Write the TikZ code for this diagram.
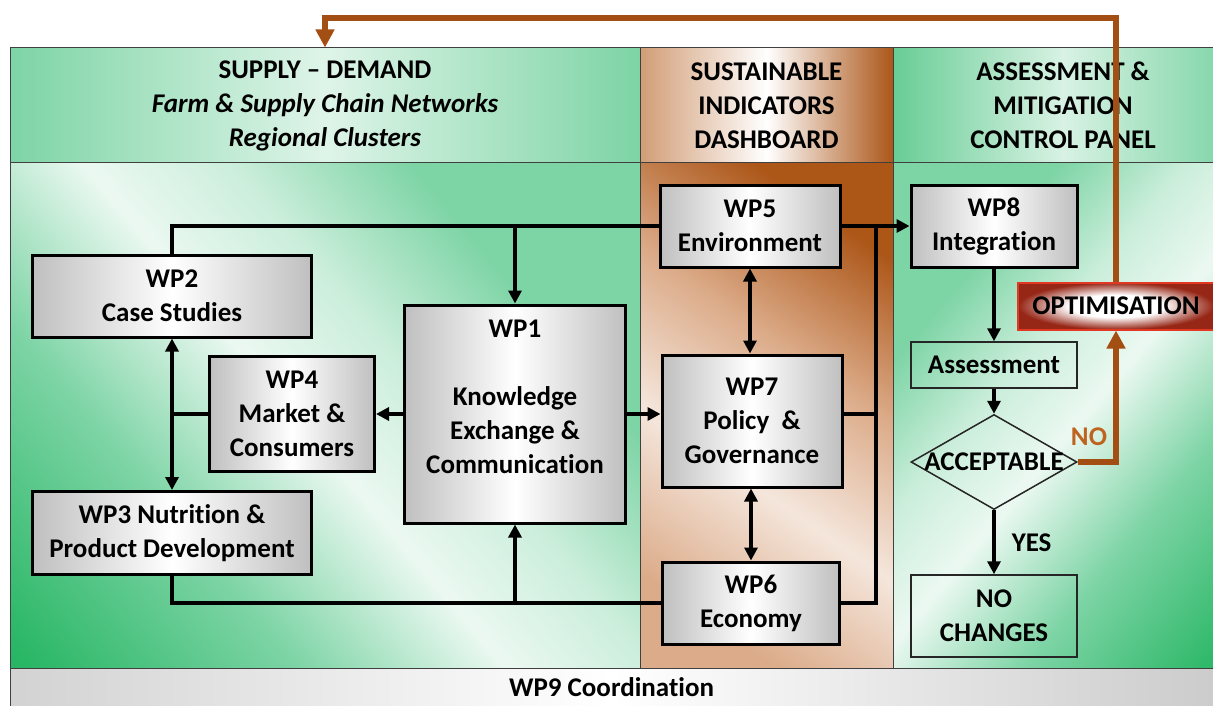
\documentclass[tikz,border=0pt]{standalone}
\usepackage{fontspec}
\setmainfont{Carlito}[Ligatures=NoCommon]
\usetikzlibrary{arrows.meta,shapes.geometric}

\definecolor{mint}{RGB}{125,212,165}
\definecolor{deepgreen}{RGB}{20,175,85}
\definecolor{peach}{RGB}{220,172,138}
\definecolor{tan}{RGB}{198,132,84}
\definecolor{rust}{RGB}{172,86,24}
\definecolor{loopbrown}{RGB}{163,78,18}
\definecolor{nobrown}{RGB}{190,100,30}
\definecolor{optred}{RGB}{150,38,22}
\definecolor{optedge}{RGB}{225,55,35}

\pgfdeclarehorizontalshading{greenbody}{100bp}{color(0bp)=(deepgreen); color(16bp)=(deepgreen!80!mint); color(34bp)=(mint); color(48bp)=(white!85!mint); color(58bp)=(white!60!mint); color(70bp)=(mint); color(100bp)=(mint)}
\pgfdeclarehorizontalshading{brownbody}{100bp}{color(0bp)=(peach); color(25bp)=(peach); color(42bp)=(white!70!peach); color(58bp)=(peach); color(75bp)=(rust); color(100bp)=(rust)}
\pgfdeclareradialshading{optglow}{\pgfpoint{0bp}{0bp}}{color(0bp)=(white); color(12bp)=(white); color(25bp)=(optred); color(50bp)=(optred)}

\newcommand\wpfont{\fontsize{27}{34}\selectfont\bfseries}

\begin{document}
\begin{tikzpicture}[x=1pt, y=-1pt,
    >={Triangle[length=13pt,width=13pt]},
    cell/.style={draw=black!75, line width=1pt, inner sep=0pt, font=\wpfont, align=center},
    wpbox/.style={draw=black, line width=3pt, left color=gray!50, right color=gray!50, middle color=white, font=\wpfont, align=center, inner sep=0pt},
    flowbox/.style={draw=black!85, line width=1.5pt, font=\wpfont, align=center, inner sep=0pt, minimum width=166pt},
    decision/.style={diamond, draw=black!85, line width=1.5pt, minimum width=166pt, minimum height=95pt, inner sep=0pt},
    optbox/.style={draw=optedge, line width=2pt, shading=optglow, font=\wpfont, inner sep=0pt, minimum width=196pt, minimum height=47pt},
    link/.style={line width=3.5pt},
    loop/.style={draw=loopbrown, line width=6pt, -{Triangle[length=18pt,width=18pt]}}]
  \useasboundingbox (0,0) rectangle (1213,706);

  % column bodies
  \shade[shading=greenbody, shading angle=40, draw=black!75, line width=1pt] (10,163) rectangle (640,668);
  \shade[shading=brownbody, shading angle=55, draw=black!75, line width=1pt] (640,163) rectangle (893,668);
  \shade[shading=greenbody, shading angle=140, draw=black!75, line width=1pt] (893,163) rectangle (1233,668);

  % column headers
  \node[cell, minimum width=630pt, minimum height=115pt, left color=mint, right color=mint, middle color=white!75!mint] (supply) at (325,105.5)
    {SUPPLY -- DEMAND\\ \textit{Farm \& Supply Chain Networks}\\ \textit{Regional Clusters}};
  \node[cell, minimum width=253pt, minimum height=115pt, left color=tan!80!white, right color=rust, middle color=white] (dash) at (766.5,105.5)
    {SUSTAINABLE\\ INDICATORS\\ DASHBOARD};
  \node[cell, minimum width=340pt, minimum height=115pt, left color=mint!80!deepgreen, right color=mint, middle color=white!70!mint] (panel) at (1063,105.5)
    {ASSESSMENT \&\\ MITIGATION\\ CONTROL PANEL};
  \node[cell, minimum width=1203pt, minimum height=38pt, left color=gray!35, right color=gray!40, middle color=white] (wp9) at (611.5,687) {WP9 Coordination};

  % work packages
  \node[wpbox, minimum width=279pt, minimum height=82pt] (wp2) at (172,296) {WP2\\ Case Studies};
  \node[wpbox, minimum width=165pt, minimum height=115pt] (wp4) at (292,414) {WP4\\ Market \&\\ Consumers};
  \node[wpbox, minimum width=221pt, minimum height=218pt] (wp1) at (515,414) {WP1\\[34pt] Knowledge\\ Exchange \&\\ Communication\\ \mbox{}};
  \node[wpbox, minimum width=279pt, minimum height=83pt] (wp3) at (172,533) {WP3 Nutrition \&\\ Product Development};
  \node[wpbox, minimum width=180pt, minimum height=82pt] (wp5) at (750,226) {WP5\\ Environment};
  \node[wpbox, minimum width=180pt, minimum height=132pt] (wp7) at (752,421) {WP7\\ Policy\ \ \&\\ Governance};
  \node[wpbox, minimum width=177pt, minimum height=82pt] (wp6) at (751,603) {WP6\\ Economy};
  \node[wpbox, minimum width=166pt, minimum height=82pt] (wp8) at (994,226) {WP8\\ Integration};

  % assessment loop
  \node[optbox] (opt) at (1116,306) {OPTIMISATION};
  \node[flowbox, minimum height=46pt] (assess) at (994,365) {Assessment};
  \node[decision, label={[font=\wpfont]center:ACCEPTABLE}] (acc) at (994,462) {};
  \node[flowbox, minimum height=82pt] (noch) at (994,616) {NO\\ CHANGES};
  \coordinate (rbus) at (876,226);

  \draw[link] (wp2.north) |- (wp5.west);
  \draw[link,->] (wp1.north |- wp5.west) -- (wp1.north);
  \draw[link,->] (wp5.east) -- (wp8.west);
  \draw[link] (wp1.east -| wp7.east) -- (wp1.east -| rbus);
  \draw[link] (wp6.east) -| (rbus);
  \draw[link,<->] (wp5.south) -- (wp5.south |- wp7.north);
  \draw[link,<->] (wp6.north |- wp7.south) -- (wp6.north);
  \draw[link,->] (wp1.east) -- (wp1.east -| wp7.west);
  \draw[link,->] (wp1.west) -- (wp4.east);
  \draw[link] (wp4.west) -- (wp4.west -| wp2.south);
  \draw[link,<->] (wp2.south) -- (wp3.north);
  \draw[link] (wp3.south) |- (wp6.west);
  \draw[link,->] (wp1.south |- wp6.west) -- (wp1.south);

  \draw[link,->] (wp8.south) -- (assess.north);
  \draw[link,->] (assess.south) -- (acc.north);
  \draw[link,->] (acc.south) -- (noch.north) node[midway, right=16pt, inner sep=0pt, font=\wpfont] {YES};
  \draw[loop] (acc.east) -| (opt.south) node[pos=0.5, anchor=south east, inner sep=0pt, xshift=-6pt, yshift=13pt, font=\wpfont, text=nobrown] {NO};
  \draw[loop] (opt.north) -- ++(0,-263) -| (supply.north);
\end{tikzpicture}
\end{document}
